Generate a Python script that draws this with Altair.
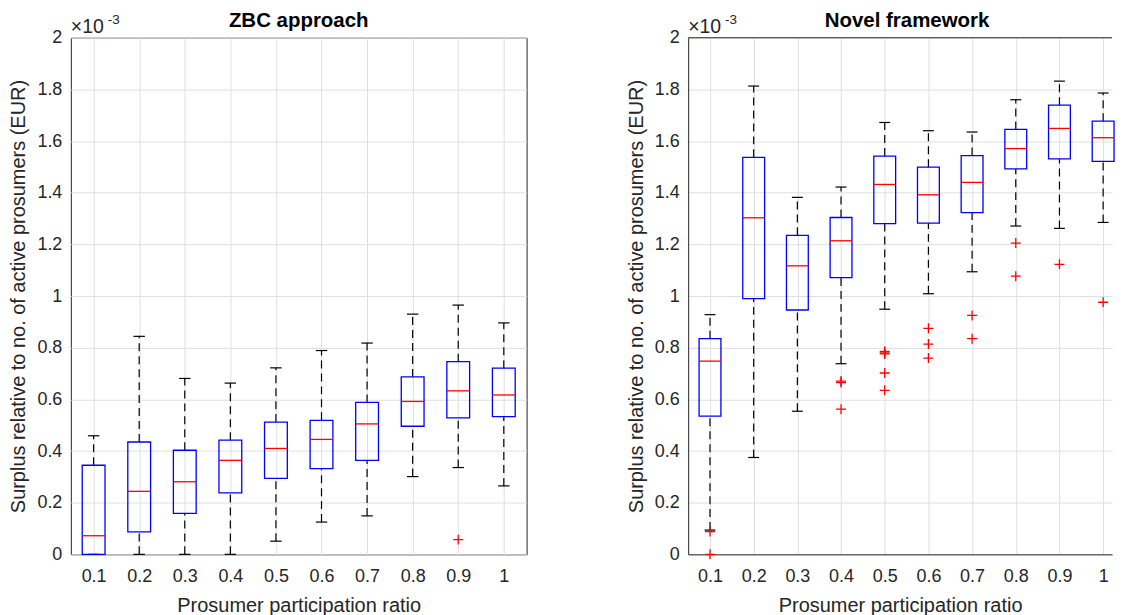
import altair as alt
import pandas as pd

FONT = "Liberation Sans, Arial, Helvetica, sans-serif"
TXT = "#262626"
GRID = "#dfdfdf"

# Prosumer participation ratios (categories)
ratios = [0.1, 0.2, 0.3, 0.4, 0.5, 0.6, 0.7, 0.8, 0.9, 1.0]
y_ticks = [0, 0.2, 0.4, 0.6, 0.8, 1.0, 1.2, 1.4, 1.6, 1.8, 2.0]

# Values in units of 1e-3 EUR
# --- ZBC approach ---
zbc_upper = [0.459, 0.844, 0.681, 0.663, 0.722, 0.789, 0.818, 0.930, 0.965, 0.896]
zbc_q3 = [0.345, 0.435, 0.403, 0.442, 0.512, 0.519, 0.588, 0.687, 0.746, 0.721]
zbc_med = [0.072, 0.244, 0.281, 0.364, 0.410, 0.445, 0.505, 0.592, 0.633, 0.617]
zbc_q1 = [0.000, 0.087, 0.159, 0.238, 0.294, 0.332, 0.364, 0.496, 0.528, 0.533]
zbc_lower = [0.000, 0.000, 0.000, 0.000, 0.051, 0.125, 0.149, 0.301, 0.336, 0.265]
zbc_out_x = [0.9]
zbc_out_y = [0.057]

# --- Novel framework ---
novel_upper = [0.928, 1.813, 1.382, 1.422, 1.672, 1.640, 1.635, 1.760, 1.832, 1.786]
novel_q3 = [0.835, 1.537, 1.235, 1.304, 1.542, 1.499, 1.544, 1.645, 1.739, 1.677]
novel_med = [0.748, 1.303, 1.117, 1.214, 1.432, 1.392, 1.440, 1.571, 1.649, 1.613]
novel_q1 = [0.535, 0.990, 0.946, 1.071, 1.280, 1.282, 1.323, 1.492, 1.531, 1.521]
novel_lower = [0.094, 0.375, 0.554, 0.738, 0.949, 1.009, 1.094, 1.271, 1.262, 1.285]
novel_out_x = [0.1, 0.1, 0.4, 0.4, 0.4, 0.5, 0.5, 0.5, 0.5, 0.5,
               0.6, 0.6, 0.6, 0.7, 0.7, 0.8, 0.8, 0.9, 1.0]
novel_out_y = [0.088, 0.000, 0.671, 0.665, 0.562, 0.786, 0.780, 0.776, 0.702, 0.635,
               0.875, 0.814, 0.760, 0.925, 0.835, 1.205, 1.077, 1.123, 0.976]


def panel(title, upper, q3, med, q1, lower, out_x, out_y, width, x_max, full_box, title_dx):
    stats = pd.DataFrame(dict(ratio=ratios, upper=upper, q3=q3, med=med, q1=q1, lower=lower))
    outl = pd.DataFrame(dict(ratio=out_x, value=out_y))

    xs = alt.Scale(domain=[0.05, x_max], nice=False, zero=False)
    ys = alt.Scale(domain=[0, 2], nice=False, zero=False)
    common = dict(grid=True, gridColor=GRID, gridWidth=1, ticks=False,
                  domain=not full_box, domainColor=TXT, domainWidth=1,
                  labelFontSize=18, titleFontSize=20, labelFont=FONT, titleFont=FONT,
                  labelColor=TXT, titleColor=TXT, titleFontWeight="normal", labelFlush=False)
    xax = alt.Axis(title="Prosumer participation ratio", values=ratios, format=".1~f",
                   labelPadding=13.7, titlePadding=9.5, **common)
    yax = alt.Axis(title="Surplus relative to no. of active prosumers (EUR)", values=y_ticks,
                   format=".1~f", labelPadding=9, titlePadding=8, **common)

    def X(f):
        return alt.X(f, type="quantitative", scale=xs, axis=xax)

    def Y(f):
        return alt.Y(f, type="quantitative", scale=ys, axis=yax)

    base = alt.Chart(stats).transform_calculate(
        lo="datum.ratio - 0.025", hi="datum.ratio + 0.025",
        clo="datum.ratio - 0.0125", chi="datum.ratio + 0.0125")

    dash = dict(color="black", strokeDash=[8, 5], strokeWidth=1.2)
    whisk_hi = base.mark_rule(**dash).encode(x=X("ratio"), y=Y("q3"), y2="upper")
    whisk_lo = base.mark_rule(**dash).encode(x=X("ratio"), y=Y("lower"), y2="q1")
    cap_hi = base.mark_rule(color="black", strokeWidth=1.2).encode(x=X("clo"), x2="chi", y=Y("upper"))
    cap_lo = base.mark_rule(color="black", strokeWidth=1.2).encode(x=X("clo"), x2="chi", y=Y("lower"))
    box = base.mark_rect(fillOpacity=0, stroke="#0000ff", strokeWidth=1.3).encode(
        x=X("lo"), x2="hi", y=Y("q1"), y2="q3")
    median = base.mark_rule(color="#ff0000", strokeWidth=1.3).encode(x=X("lo"), x2="hi", y=Y("med"))
    outliers = alt.Chart(outl).mark_point(shape="M-1,0H1M0,-1V1", size=100, color="#ff0000",
                                          strokeWidth=1.3, filled=False, opacity=1).encode(
        x=X("ratio"), y=Y("value"))
    exp_base = alt.Chart(pd.DataFrame({"t": ["\u00d710"], "e": ["-3"]}))
    exp1 = exp_base.mark_text(align="left", baseline="alphabetic", fontSize=19.5, font=FONT,
                              color=TXT).encode(x=alt.value(0), y=alt.value(-4.7), text="t:N")
    exp2 = exp_base.mark_text(align="left", baseline="alphabetic", fontSize=13.5, font=FONT,
                              color=TXT).encode(x=alt.value(37), y=alt.value(-14), text="e:N")

    layers = [whisk_hi, whisk_lo, cap_hi, cap_lo, box, median, outliers, exp1, exp2]
    if full_box:
        view = alt.ViewBackground(stroke=TXT, strokeWidth=1)
    else:
        view = alt.ViewBackground(stroke="transparent")
        top_line = exp_base.mark_rule(color=TXT, strokeWidth=1).encode(
            x=alt.value(0), x2=alt.value(width), y=alt.value(0))
        layers.append(top_line)

    return alt.layer(*layers).properties(
        width=width, height=518, view=view,
        title=alt.TitleParams(title, fontSize=20.5, fontWeight="bold", font=FONT, color="black",
                              anchor="middle", offset=-19, dx=title_dx))


left = panel("ZBC approach", zbc_upper, zbc_q3, zbc_med, zbc_q1, zbc_lower,
             zbc_out_x, zbc_out_y, 457, 1.05, True, 0)
# right panel is cut at the window's edge, as in the reference
right = panel("Novel framework", novel_upper, novel_q3, novel_med, novel_q1, novel_lower,
              novel_out_x, novel_out_y, 425, 0.05 + 425 / 438, False, 7)

chart = alt.hconcat(left, right, spacing=98).properties(
    padding={"left": 0, "top": 2, "right": 0, "bottom": 0}
).configure(background="white")

chart.save("out.html", embed_options={"renderer": "svg", "actions": False})
